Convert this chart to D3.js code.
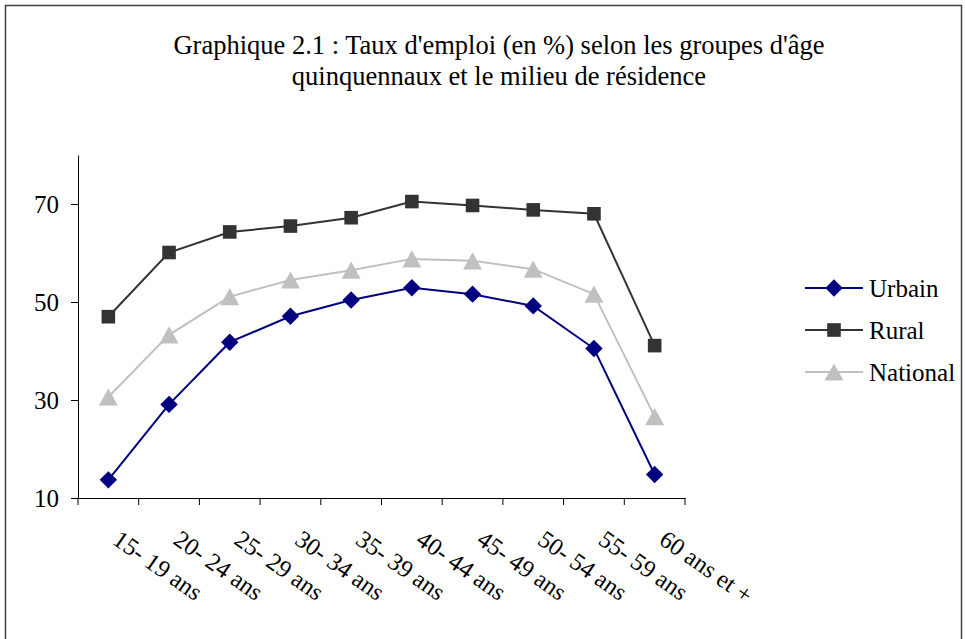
<!DOCTYPE html>
<html lang="fr">
<head>
  <meta charset="UTF-8">
  <title>Taux d'emploi selon les groupes d'âge</title>
  <style>
    body { margin: 0; background: #fff; }
    svg { display: block; }
    svg text { font-family: "Liberation Serif", "Times New Roman", serif; }
  </style>
</head>
<body>
  <div id="chart"></div>
  <script src="https://d3js.org/d3.v7.min.js"></script>
  <script>
    const width = 965
    const height = 639

    // données
    const categories = ['15- 19 ans', '20- 24 ans', '25- 29 ans', '30- 34 ans', '35- 39 ans',
      '40- 44 ans', '45- 49 ans', '50- 54 ans', '55- 59 ans', '60 ans et +']
    const urbain = [13.7, 29.1, 41.8, 47.1, 50.4, 52.9, 51.6, 49.2, 40.5, 14.8]
    const rural = [47.0, 60.1, 64.3, 65.5, 67.2, 70.5, 69.7, 68.8, 68.0, 41.1]
    const national = [30.6, 43.3, 51.1, 54.5, 56.5, 58.8, 58.4, 56.7, 51.6, 26.6]
    const yTicks = [10, 30, 50, 70]
    const titleLines = ["Graphique 2.1 : Taux d'emploi (en %) selon les groupes d'âge",
      "quinquennaux et le milieu de résidence"]

    // marqueurs façon Excel (size = demi-largeur)
    const diamond = {
      draw(ctx, r) {
        ctx.moveTo(0, -r); ctx.lineTo(r, 0); ctx.lineTo(0, r); ctx.lineTo(-r, 0); ctx.closePath()
      }
    }
    const square = {
      draw(ctx, r) {
        ctx.rect(-r, -r, 2 * r, 2 * r)
      }
    }
    const triangle = {
      draw(ctx, r) {
        const h = r * 0.9
        ctx.moveTo(0, -h); ctx.lineTo(r, h); ctx.lineTo(-r, h); ctx.closePath()
      }
    }

    const series = [
      { name: 'Urbain', values: urbain, color: '#000080', symbol: diamond, size: 8.7 },
      { name: 'Rural', values: rural, color: '#333333', symbol: square, size: 6.8 },
      { name: 'National', values: national, color: '#c0c0c0', symbol: triangle, size: 9.5 }
    ]

    const svg = d3.select('#chart').append('svg')
      .attr('width', width)
      .attr('height', height)

    // cadre
    svg.append('rect')
      .attr('x', 5.5).attr('y', 5.5)
      .attr('width', 956).attr('height', 645)
      .attr('fill', 'none')
      .attr('stroke', '#404040')
      .attr('stroke-width', 1.5)

    // titre
    svg.append('g').selectAll('text')
      .data(titleLines)
      .join('text')
      .attr('x', 499)
      .attr('y', (d, i) => 54 + i * 31)
      .attr('text-anchor', 'middle')
      .attr('font-size', 26.5)
      .text(d => d)

    const x = d3.scaleBand().domain(categories).range([78, 685])
    const y = d3.scaleLinear().domain([10, 80]).range([498, 155])

    // axe Y
    svg.append('g')
      .attr('transform', 'translate(78,0)')
      .call(d3.axisLeft(y).tickValues(yTicks).tickSize(7).tickSizeOuter(0).tickPadding(12))
      .attr('font-family', null)
      .attr('font-size', 25)
      .call(g => g.selectAll('text').attr('fill', '#000'))
      .call(g => g.selectAll('line, path').attr('stroke', '#000'))

    // axe X
    const xAxis = svg.append('g')
      .attr('transform', 'translate(0,498)')
      .call(d3.axisBottom(x).tickSize(0).tickSizeOuter(0).tickFormat(''))
    xAxis.select('path').attr('stroke', '#000')

    const edges = d3.range(categories.length + 1).map(i => x.range()[0] + i * x.step())
    xAxis.selectAll('.edge')
      .data(edges)
      .join('line')
      .attr('class', 'edge')
      .attr('x1', d => d).attr('x2', d => d)
      .attr('y1', 0).attr('y2', 7)
      .attr('stroke', '#000')

    svg.append('g').selectAll('text')
      .data(categories)
      .join('text')
      .attr('transform', d => `translate(${x(d) + x.bandwidth() / 2 + 3},543) rotate(35)`)
      .attr('font-size', 24.5)
      .text(d => d)

    // courbes
    const line = d3.line()
      .x((d, i) => x(categories[i]) + x.bandwidth() / 2)
      .y(d => y(d))

    const sg = svg.append('g').selectAll('g')
      .data(series)
      .join('g')

    sg.append('path')
      .attr('d', d => line(d.values))
      .attr('fill', 'none')
      .attr('stroke', d => d.color)
      .attr('stroke-width', 2)

    sg.each(function (s) {
      d3.select(this).selectAll('path.mk')
        .data(s.values)
        .join('path')
        .attr('class', 'mk')
        .attr('transform', (d, i) => `translate(${x(categories[i]) + x.bandwidth() / 2},${y(d)})`)
        .attr('d', d3.symbol(s.symbol, s.size))
        .attr('fill', s.color)
    })

    // légende
    const lg = svg.append('g').selectAll('g')
      .data(series)
      .join('g')
      .attr('transform', (d, i) => `translate(805,${288 + i * 42})`)

    lg.append('line')
      .attr('x1', 0).attr('x2', 58)
      .attr('stroke', d => d.color)
      .attr('stroke-width', 2)
    lg.append('path')
      .attr('transform', 'translate(29,0)')
      .attr('d', d => d3.symbol(d.symbol, d.size)())
      .attr('fill', d => d.color)
    lg.append('text')
      .attr('x', 64)
      .attr('dy', '0.35em')
      .attr('font-size', 25)
      .text(d => d.name)
  </script>
</body>
</html>
